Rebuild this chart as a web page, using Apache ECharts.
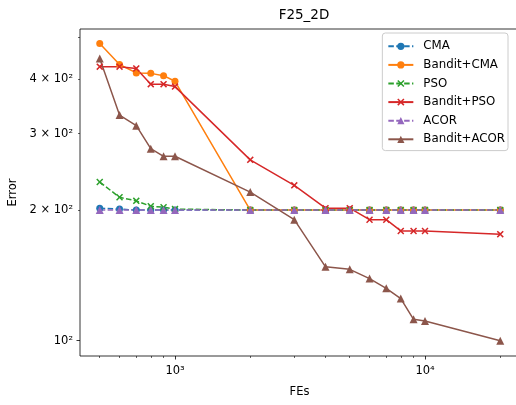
<!DOCTYPE html>
<html>
<head>
<meta charset="utf-8">
<script src="https://cdn.jsdelivr.net/npm/echarts@6/dist/echarts.min.js"></script>
<style>
  html, body { margin: 0; padding: 0; background: #fff; }
  #chart { width: 516px; height: 405px; }
</style>
</head>
<body>
<div id="chart"></div>
<script>
// FEs on x, error on y (both log)
const fes = [500, 600, 700, 800, 900, 1000, 2000, 3000, 4000, 5000, 6000, 7000, 8000, 9000, 10000, 20000];

const cma        = [202, 201, 200, 200, 200, 200, 200, 200, 200, 200, 200, 200, 200, 200, 200, 200];
const banditCma  = [484, 433, 414, 413, 408, 396, 200, 200, 200, 200, 200, 200, 200, 200, 200, 200];
const pso        = [232, 214, 210, 204, 203, 201, 200, 200, 200, 200, 200, 200, 200, 200, 200, 200];
const banditPso  = [428, 428, 424, 390, 390, 385, 261, 228, 202, 202, 190, 190, 179, 179, 179, 176];
const acor       = [200, 200, 200, 200, 200, 200, 200, 200, 200, 200, 200, 200, 200, 200, 200, 200];
const banditAcor = [447, 331, 313, 277, 266, 266, 220, 190, 148, 146, 139, 132, 125, 112, 111, 100];

const xMajor = [1000, 10000];
const xMinor = [500, 600, 700, 800, 900, 2000, 3000, 4000, 5000, 6000, 7000, 8000, 9000, 20000];
const yMajor = [100];
const yMinor = [200, 300, 400, 500];
const yLabelVals = [100, 200, 300, 400];
const xTickText = { 1000: '10³', 10000: '10⁴' };
const yTickText = { 100: '10²', 200: '2 × 10²', 300: '3 × 10²', 400: '4 × 10²' };

const FONT = 'DejaVu Sans';
const crossPath = 'path://M0,1.5L1.5,0L5,3.5L8.5,0L10,1.5L6.5,5L10,8.5L8.5,10L5,6.5L1.5,10L0,8.5L3.5,5Z';

const xMin = Math.pow(10, 2.62), xMax = Math.pow(10, 4.376);
const yMin = Math.pow(10, 1.9647), yMax = Math.pow(10, 2.7182);

const pair = (ys) => fes.map((x, i) => [x, ys[i]]);

const mkSeries = (name, ys, color, symbol, dashed) => ({
  name,
  type: 'line',
  data: pair(ys),
  symbol,
  symbolSize: symbol === 'triangle' ? 8 : 7,
  showAllSymbol: true,
  color,
  itemStyle: { color, borderWidth: 0 },
  lineStyle: { color, width: 1.5, type: dashed ? [5.5, 2.4] : 'solid' },
  emphasis: { disabled: true },
  animation: false
});

const baseX = {
  type: 'log',
  position: 'bottom',
  min: xMin,
  max: xMax,
  axisLine: { show: false },
  splitLine: { show: false },
  minorTick: { show: false },
  minorSplitLine: { show: false }
};
const baseY = {
  type: 'log',
  position: 'left',
  min: yMin,
  max: yMax,
  axisLine: { show: false },
  splitLine: { show: false },
  minorTick: { show: false },
  minorSplitLine: { show: false }
};

const gridBox = { left: 80, width: 439, top: 29, height: 327, outerBoundsMode: 'none', containLabel: false };

const chart = echarts.init(document.getElementById('chart'), null, { renderer: 'canvas' });

chart.setOption({
  animation: false,
  backgroundColor: '#fff',
  textStyle: { fontFamily: FONT },
  title: {
    text: 'F25_2D',
    left: 299,
    top: 3,
    textAlign: 'center',
    textStyle: { fontFamily: FONT, fontSize: 13.5, fontWeight: 'normal', color: '#000' }
  },
  grid: [
    Object.assign({}, gridBox, { show: true, borderColor: '#000', borderWidth: 0.8, backgroundColor: 'transparent' }),
    Object.assign({}, gridBox, { show: false })
  ],
  legend: {
    orient: 'vertical',
    right: 8,
    top: 33,
    itemWidth: 25,
    itemHeight: 9,
    itemGap: 6,
    padding: [7, 3, 5, 5],
    backgroundColor: 'rgba(255,255,255,0.8)',
    borderColor: '#ccc',
    borderWidth: 1,
    borderRadius: 3,
    textStyle: { fontFamily: FONT, fontSize: 11.8, color: '#000', lineHeight: 12.6, padding: [0, 0, 0, 5] },
    data: ['CMA', 'Bandit+CMA', 'PSO', 'Bandit+PSO', 'ACOR', 'Bandit+ACOR']
  },
  xAxis: [
    Object.assign({}, baseX, {
      gridIndex: 0,
      name: 'FEs',
      nameLocation: 'middle',
      nameGap: 30,
      nameTextStyle: { fontFamily: FONT, fontSize: 11.5, color: '#000' },
      axisTick: { show: true, length: 3.5, lineStyle: { color: '#000', width: 0.8 }, customValues: xMajor },
      axisLabel: {
        show: true, margin: 9, fontFamily: FONT, fontSize: 11.5, color: '#000',
        customValues: xMajor,
        formatter: (v) => xTickText[Math.round(v)] || ''
      }
    }),
    Object.assign({}, baseX, {
      gridIndex: 1,
      axisTick: { show: true, length: 2, lineStyle: { color: '#000', width: 0.6 }, customValues: xMinor },
      axisLabel: { show: false }
    })
  ],
  yAxis: [
    Object.assign({}, baseY, {
      gridIndex: 0,
      name: 'Error',
      nameLocation: 'middle',
      nameGap: 55,
      nameTextStyle: { fontFamily: FONT, fontSize: 11.5, color: '#000' },
      axisTick: { show: true, length: 3.5, lineStyle: { color: '#000', width: 0.8 }, customValues: yMajor },
      axisLabel: {
        show: true, margin: 7, fontFamily: FONT, fontSize: 11.5, color: '#000',
        customValues: yLabelVals,
        formatter: (v) => yTickText[Math.round(v)] || ''
      }
    }),
    Object.assign({}, baseY, {
      gridIndex: 1,
      axisTick: { show: true, length: 2, lineStyle: { color: '#000', width: 0.6 }, customValues: yMinor },
      axisLabel: { show: false }
    })
  ],
  series: [
    mkSeries('CMA', cma, '#1f77b4', 'circle', true),
    mkSeries('Bandit+CMA', banditCma, '#ff7f0e', 'circle', false),
    mkSeries('PSO', pso, '#2ca02c', crossPath, true),
    mkSeries('Bandit+PSO', banditPso, '#d62728', crossPath, false),
    mkSeries('ACOR', acor, '#9467bd', 'triangle', true),
    mkSeries('Bandit+ACOR', banditAcor, '#8c564b', 'triangle', false)
  ]
});
</script>
</body>
</html>
